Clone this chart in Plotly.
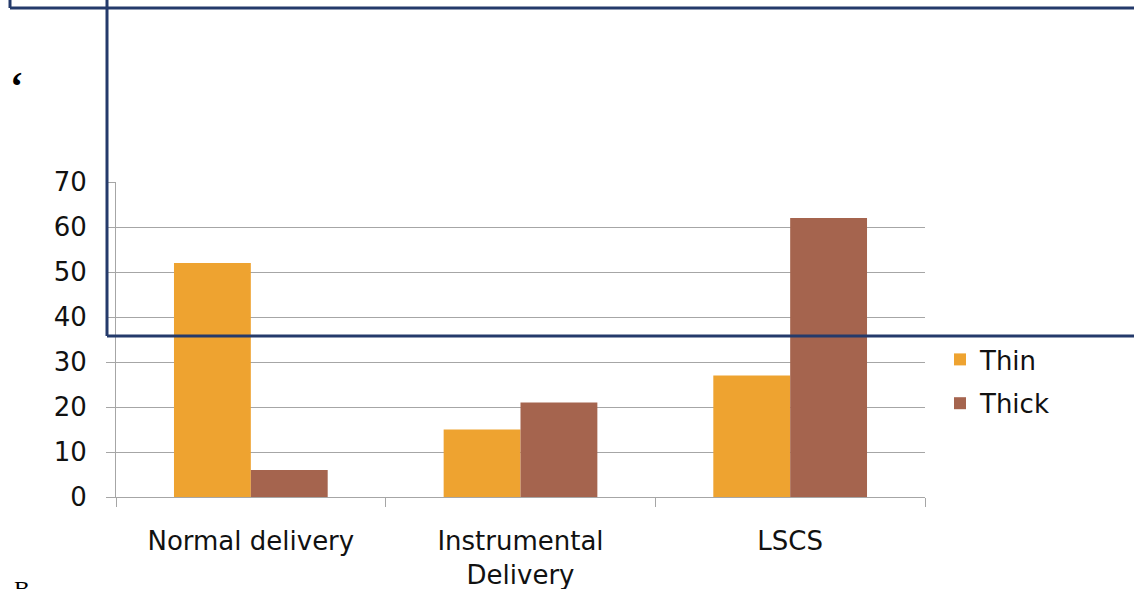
import plotly.graph_objects as go

categories = ["Normal delivery", "Instrumental<br>Delivery", "LSCS"]
thin_values = [52, 15, 27]
thick_values = [6, 21, 62]
y_ticks = [0, 10, 20, 30, 40, 50, 60, 70]

W, H = 1134, 589
L, R, T, B = 116, 925, 182, 497


def px(x):
    return (x - L) / (R - L)


def py(y):
    return (B - y) / (B - T)


FONT = "DejaVu Sans"
GRID = "#a6a6a6"
NAVY = "#243a6b"
FS = 26

fig = go.Figure()
fig.add_trace(go.Bar(name="Thin", x=categories, y=thin_values, legendgroup="a",
                     marker=dict(color="#EEA330", line=dict(width=0))))
fig.add_trace(go.Bar(name="Thick", x=categories, y=thick_values, legendgroup="b",
                     marker=dict(color="#A5644E", line=dict(width=0))))

fig.update_layout(
    width=W, height=H,
    margin=dict(l=L, r=W - R, t=T, b=H - B, pad=0, autoexpand=False),
    paper_bgcolor="white", plot_bgcolor="white",
    barmode="group", bargap=0.43, bargroupgap=0,
    font=dict(family=FONT, size=FS, color="#111111"),
    showlegend=True,
    legend=dict(x=px(940), y=py(336), xanchor="left", yanchor="top",
                font=dict(family=FONT, size=FS, color="#111111"),
                traceorder="grouped", tracegroupgap=7, itemwidth=30,
                bgcolor="rgba(0,0,0,0)"),
    xaxis=dict(showgrid=False, showline=True, linecolor=GRID, linewidth=1,
               ticks="outside", ticklen=9, tickcolor=GRID, automargin=False,
               tickson="boundaries", tickfont=dict(family=FONT, size=FS),
               ticklabelstandoff=21),
    yaxis=dict(range=[0, 70], tickvals=y_ticks, showgrid=True, gridcolor=GRID,
               gridwidth=1, showline=True, linecolor=GRID, linewidth=1,
               ticks="outside", ticklen=9, tickcolor=GRID, zeroline=False,
               automargin=False,
               tickfont=dict(family=FONT, size=FS), ticklabelstandoff=14),
)

# Navy outline segments overlaid on the page
segs = [
    (10, 0, 10, 8), (10, 8, W, 8),
    (107, 0, 107, 336), (107, 336, W, 336),
]
for x0, y0, x1, y1 in segs:
    fig.add_shape(type="line", xref="paper", yref="paper",
                  x0=px(x0), y0=py(y0), x1=px(x1), y1=py(y1),
                  line=dict(color=NAVY, width=3), layer="above")

fig.add_annotation(xref="paper", yref="paper", x=px(8), y=py(62),
                   text="<b>\u2018</b>", showarrow=False, xanchor="left", yanchor="top",
                   font=dict(family="Liberation Serif", size=40, color="#000000"))
fig.add_annotation(xref="paper", yref="paper", x=px(12), y=py(574),
                   text="B", showarrow=False, xanchor="left", yanchor="top",
                   font=dict(family="Liberation Serif", size=24, color="#000000"))

fig.write_html("out.html")
